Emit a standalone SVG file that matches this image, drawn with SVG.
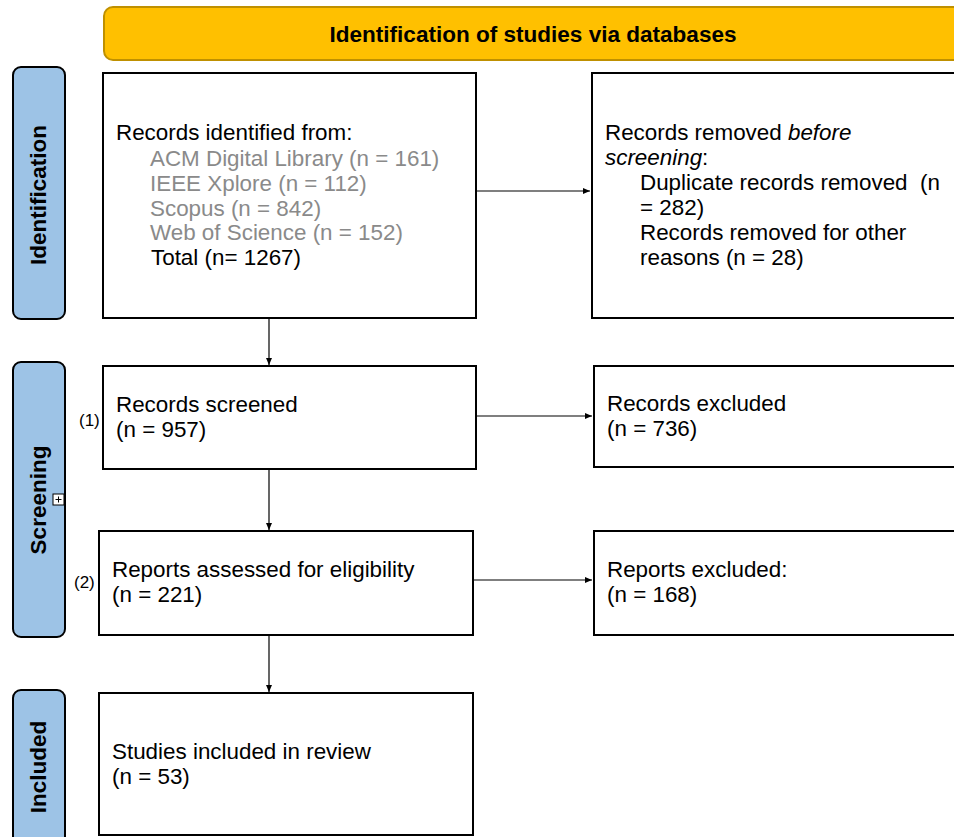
<svg xmlns="http://www.w3.org/2000/svg" width="954" height="837" viewBox="0 0 954 837">
<style>
  .box{fill:#fff;stroke:#000;stroke-width:2}
  .side{fill:#9DC3E6;stroke:#000;stroke-width:2}
  .t{font-family:"Liberation Sans",Arial,sans-serif;font-size:22.4px;fill:#000}
  .g{fill:#8a8a8a}
  .sl{font-family:"Liberation Sans",Arial,sans-serif;font-size:22.5px;font-weight:bold;fill:#000}
  .num{font-family:"Liberation Sans",Arial,sans-serif;font-size:17px;fill:#000}
  .c{stroke:#000;stroke-width:1.2;fill:none}
</style>
<defs>
  <marker id="ah" markerWidth="7" markerHeight="6" refX="7" refY="3" orient="auto" markerUnits="userSpaceOnUse">
    <path d="M0,0 L7,3 L0,6 Z" fill="#000"/>
  </marker>
</defs>
<rect width="954" height="837" fill="#fff"/>

<g id="header">
  <rect x="104" y="7" width="870" height="53" rx="9" fill="#FFC000" stroke="#BF9000" stroke-width="2"/>
  <text x="533" y="42" text-anchor="middle" class="sl" font-size="21" textLength="407" lengthAdjust="spacingAndGlyphs">Identification of studies via databases</text>
</g>

<g id="lbl-identification">
  <rect x="13" y="67" width="52" height="252" rx="8" class="side"/>
  <text transform="translate(46,195) rotate(-90)" text-anchor="middle" class="sl">Identification</text>
</g>
<g id="lbl-screening">
  <rect x="13" y="362" width="52" height="275" rx="8" class="side"/>
  <text transform="translate(46,500) rotate(-90)" text-anchor="middle" class="sl">Screening</text>
  <rect x="53" y="494" width="11" height="11" fill="#fff" stroke="#000" stroke-width="1"/>
  <path d="M55.5,499.5 H61.5 M58.5,496.5 V502.5" stroke="#000" stroke-width="1"/>
</g>
<g id="lbl-included">
  <rect x="13" y="690" width="52" height="160" rx="8" class="side"/>
  <text transform="translate(46,767) rotate(-90)" text-anchor="middle" class="sl">Included</text>
</g>

<g id="records-identified">
  <rect x="103" y="73" width="373" height="245" class="box"/>
  <text class="t" x="116" y="140">Records identified from:</text>
  <text class="t g" x="150" y="166">ACM Digital Library (n = 161)</text>
  <text class="t g" x="150" y="191">IEEE Xplore (n = 112)</text>
  <text class="t g" x="150" y="216">Scopus (n = 842)</text>
  <text class="t g" x="150" y="240">Web of Science (n = 152)</text>
  <text class="t" x="151" y="265">Total (n= 1267)</text>
</g>

<g id="records-removed">
  <rect x="592" y="73" width="380" height="245" class="box"/>
  <text class="t" x="605" y="140">Records removed <tspan font-style="italic">before</tspan></text>
  <text class="t" x="605" y="165"><tspan font-style="italic">screening</tspan>:</text>
  <text class="t" x="640" y="190" xml:space="preserve">Duplicate records removed  (n</text>
  <text class="t" x="640" y="215">= 282)</text>
  <text class="t" x="640" y="240">Records removed for other</text>
  <text class="t" x="640" y="265">reasons (n = 28)</text>
</g>

<g id="records-screened">
  <rect x="103" y="366" width="373" height="103" class="box"/>
  <text class="t" x="116" y="412">Records screened</text>
  <text class="t" x="116" y="437">(n = 957)</text>
  <text class="num" x="79" y="426">(1)</text>
</g>

<g id="records-excluded">
  <rect x="594" y="366" width="378" height="101" class="box"/>
  <text class="t" x="607" y="411">Records excluded</text>
  <text class="t" x="607" y="436">(n = 736)</text>
</g>

<g id="reports-assessed">
  <rect x="99" y="531" width="374" height="104" class="box"/>
  <text class="t" x="112" y="577">Reports assessed for eligibility</text>
  <text class="t" x="112" y="602">(n = 221)</text>
  <text class="num" x="74" y="588">(2)</text>
</g>

<g id="reports-excluded">
  <rect x="594" y="531" width="378" height="104" class="box"/>
  <text class="t" x="607" y="577">Reports excluded:</text>
  <text class="t" x="607" y="602">(n = 168)</text>
</g>

<g id="studies-included">
  <rect x="99" y="693" width="374" height="142" class="box"/>
  <text class="t" x="112" y="759">Studies included in review</text>
  <text class="t" x="112" y="784">(n = 53)</text>
</g>

<g id="connectors">
  <line class="c" x1="477" y1="191" x2="590" y2="191" marker-end="url(#ah)"/>
  <line class="c" x1="477" y1="416" x2="592" y2="416" marker-end="url(#ah)"/>
  <line class="c" x1="474" y1="580" x2="592" y2="580" marker-end="url(#ah)"/>
  <line class="c" x1="269" y1="319" x2="269" y2="365" marker-end="url(#ah)"/>
  <line class="c" x1="269" y1="470" x2="269" y2="530" marker-end="url(#ah)"/>
  <line class="c" x1="269" y1="636" x2="269" y2="692" marker-end="url(#ah)"/>
</g>
</svg>
